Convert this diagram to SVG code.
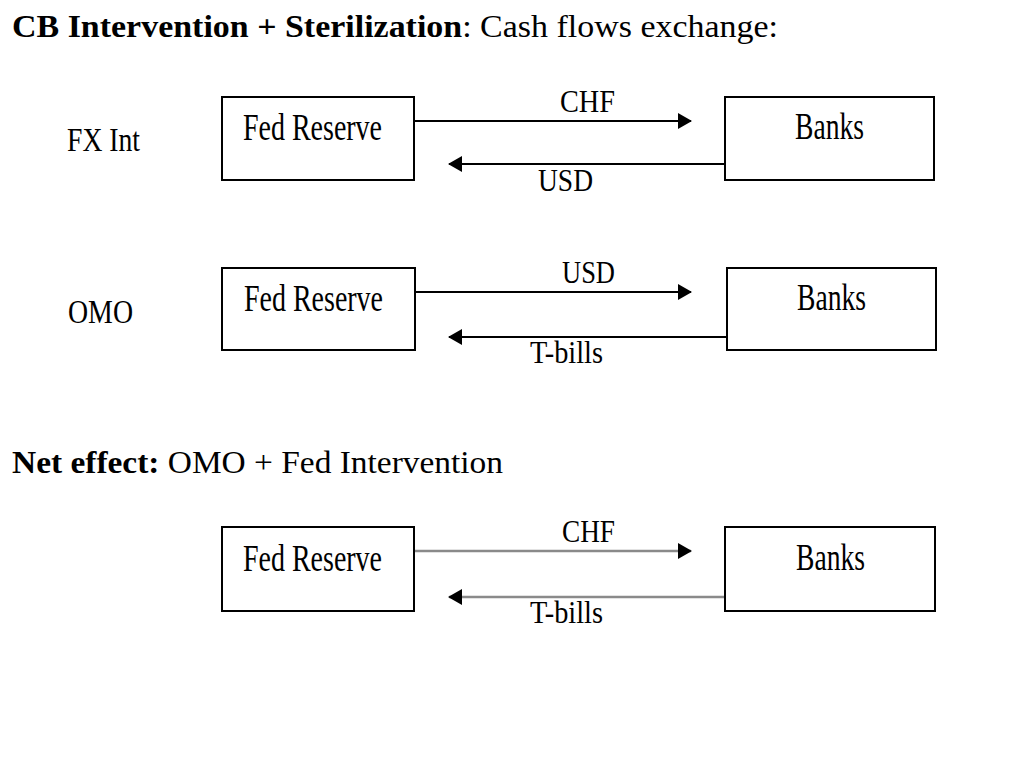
<svg xmlns="http://www.w3.org/2000/svg" width="1024" height="768" viewBox="0 0 1024 768">
<style>
.t{font-family:"Liberation Serif","Times New Roman",serif;fill:#000}
.box{fill:#fff;stroke:#000;stroke-width:2}
.ln{stroke:#000;stroke-width:2;fill:none}
.gl{stroke:#8a8a8a;stroke-width:2.5;fill:none}
.lb{font-size:38px}
.al{font-size:31px}
.side{font-size:34px}
</style>
<defs>
<marker id="ah" markerWidth="14" markerHeight="16" refX="13" refY="8" orient="auto" markerUnits="userSpaceOnUse">
<path d="M0,0 L14,8 L0,16 Z" fill="#000"/>
</marker>
</defs>
<rect width="1024" height="768" fill="#fff"/>
<text class="t" x="12" y="37" font-size="31" textLength="766" lengthAdjust="spacingAndGlyphs"><tspan font-weight="bold">CB Intervention + Sterilization</tspan>: Cash flows exchange:</text>
<text class="t" x="12" y="473" font-size="31" textLength="491" lengthAdjust="spacingAndGlyphs"><tspan font-weight="bold">Net effect:</tspan> OMO + Fed Intervention</text>
<text class="t side" x="67" y="151" textLength="73" lengthAdjust="spacingAndGlyphs">FX Int</text>
<text class="t side" x="68" y="323" textLength="65" lengthAdjust="spacingAndGlyphs">OMO</text>
<g id="connectors">
<line class="ln" x1="414" y1="121" x2="691" y2="121" marker-end="url(#ah)"/>
<line class="ln" x1="725" y1="164" x2="449" y2="164" marker-end="url(#ah)"/>
<line class="ln" x1="415" y1="292" x2="691" y2="292" marker-end="url(#ah)"/>
<line class="ln" x1="727" y1="337" x2="449" y2="337" marker-end="url(#ah)"/>
<line class="gl" x1="414" y1="551" x2="691" y2="551" marker-end="url(#ah)"/>
<line class="gl" x1="725" y1="597" x2="449" y2="597" marker-end="url(#ah)"/>
<text class="t al" x="560" y="112" textLength="55" lengthAdjust="spacingAndGlyphs">CHF</text>
<text class="t al" x="538" y="191" textLength="55" lengthAdjust="spacingAndGlyphs">USD</text>
<text class="t al" x="562" y="283" textLength="53" lengthAdjust="spacingAndGlyphs">USD</text>
<text class="t al" x="530" y="363" textLength="73" lengthAdjust="spacingAndGlyphs">T-bills</text>
<text class="t al" x="562" y="542" textLength="53" lengthAdjust="spacingAndGlyphs">CHF</text>
<text class="t al" x="530" y="623" textLength="73" lengthAdjust="spacingAndGlyphs">T-bills</text>
</g>
<g id="fed1"><rect class="box" x="222" y="97" width="192" height="83"/><text class="t lb" x="243" y="140" textLength="139" lengthAdjust="spacingAndGlyphs">Fed Reserve</text></g>
<g id="banks1"><rect class="box" x="725" y="97" width="209" height="83"/><text class="t lb" x="795" y="139" textLength="69" lengthAdjust="spacingAndGlyphs">Banks</text></g>
<g id="fed2"><rect class="box" x="222" y="268" width="193" height="82"/><text class="t lb" x="244" y="311" textLength="139" lengthAdjust="spacingAndGlyphs">Fed Reserve</text></g>
<g id="banks2"><rect class="box" x="727" y="268" width="209" height="82"/><text class="t lb" x="797" y="310" textLength="69" lengthAdjust="spacingAndGlyphs">Banks</text></g>
<g id="fed3"><rect class="box" x="222" y="527" width="192" height="84"/><text class="t lb" x="243" y="571" textLength="139" lengthAdjust="spacingAndGlyphs">Fed Reserve</text></g>
<g id="banks3"><rect class="box" x="725" y="527" width="210" height="84"/><text class="t lb" x="796" y="570" textLength="69" lengthAdjust="spacingAndGlyphs">Banks</text></g>
</svg>
